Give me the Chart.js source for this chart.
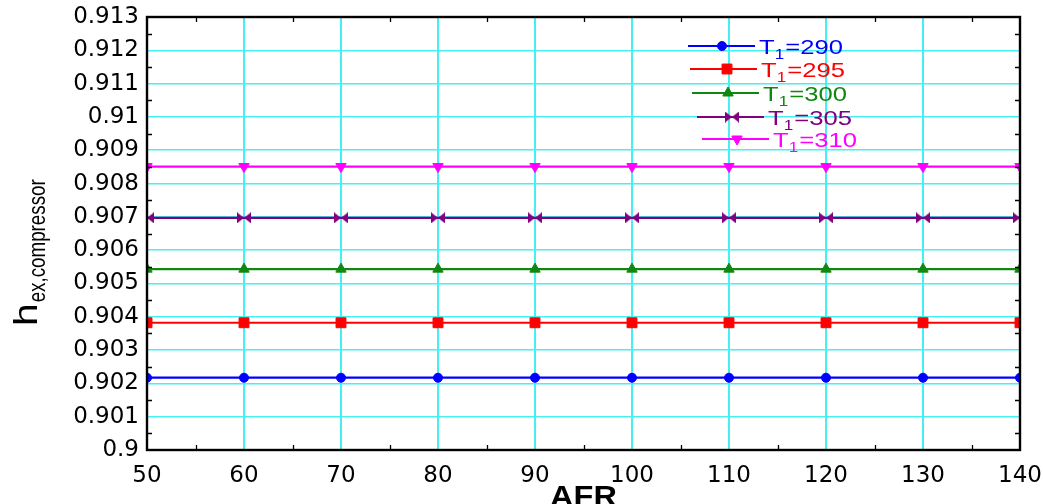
<!DOCTYPE html>
<html><head><meta charset="utf-8">
<script src="https://cdn.jsdelivr.net/npm/chart.js@4.4.0/dist/chart.umd.min.js"></script>
<style>html,body{margin:0;padding:0;background:#fff;overflow:hidden}#wrap{width:1043px;height:504px;position:relative}</style>
</head><body><div id="wrap"><canvas id="c" width="1043" height="504"></canvas></div>
<script>
const afr = [50, 60, 70, 80, 90, 100, 110, 120, 130, 140];
const temps = [290, 295, 300, 305, 310];
const eta290 = [0.90217, 0.90217, 0.90217, 0.90217, 0.90217, 0.90217, 0.90217, 0.90217, 0.90217, 0.90217];
const eta295 = [0.90382, 0.90382, 0.90382, 0.90382, 0.90382, 0.90382, 0.90382, 0.90382, 0.90382, 0.90382];
const eta300 = [0.90543, 0.90543, 0.90543, 0.90543, 0.90543, 0.90543, 0.90543, 0.90543, 0.90543, 0.90543];
const eta305 = [0.90697, 0.90697, 0.90697, 0.90697, 0.90697, 0.90697, 0.90697, 0.90697, 0.90697, 0.90697];
const eta310 = [0.90851, 0.90851, 0.90851, 0.90851, 0.90851, 0.90851, 0.90851, 0.90851, 0.90851, 0.90851];
const xTicks = [50, 60, 70, 80, 90, 100, 110, 120, 130, 140];
const xTickLabels = ['50', '60', '70', '80', '90', '100', '110', '120', '130', '140'];
const xMinorTicks = [55, 65, 75, 85, 95, 105, 115, 125, 135];
const yTicks = [0.9, 0.901, 0.902, 0.903, 0.904, 0.905, 0.906, 0.907, 0.908, 0.909, 0.91, 0.911, 0.912, 0.913];
const yTickLabels = ['0.9', '0.901', '0.902', '0.903', '0.904', '0.905', '0.906', '0.907', '0.908', '0.909', '0.91', '0.911', '0.912', '0.913'];
const yMinorTicks = [0.9005, 0.9015, 0.9025, 0.9035, 0.9045, 0.9055, 0.9065, 0.9075, 0.9085, 0.9095, 0.9105, 0.9115, 0.9125];
const xTitle = 'AFR';
const yTitleMain = 'h';
const yTitleSub = 'ex,compressor';
const legendPrefix = 'T';
const legendSub = '1';

function bowtie(color) {
  const c = document.createElement('canvas');
  c.width = 14; c.height = 11;
  const g = c.getContext('2d');
  g.fillStyle = color;
  g.beginPath();
  g.moveTo(0, 0); g.lineTo(7, 5.5); g.lineTo(0, 11); g.closePath();
  g.moveTo(14, 0); g.lineTo(7, 5.5); g.lineTo(14, 11); g.closePath();
  g.fill();
  return c;
}

const colors = ['#0000ff', '#ff0000', '#108810', '#800080', '#ff00ff'];
const seriesValues = [eta290, eta295, eta300, eta305, eta310];
const styles = [
  {pointStyle: 'circle', radius: 4.5, rotation: 0},
  {pointStyle: 'rect', radius: 7, rotation: 0},
  {pointStyle: 'triangle', radius: 6, rotation: 0},
  {pointStyle: bowtie('#800080'), radius: 6, rotation: 0},
  {pointStyle: 'triangle', radius: 6, rotation: 180}
];

const datasets = temps.map((t, i) => ({
  label: legendPrefix + legendSub + '=' + t,
  data: afr.map((x, j) => ({x: x, y: seriesValues[i][j]})),
  borderColor: colors[i],
  backgroundColor: colors[i],
  borderWidth: 2.2,
  pointStyle: styles[i].pointStyle,
  pointRadius: styles[i].radius,
  pointRotation: styles[i].rotation,
  pointBorderWidth: 1,
  pointBorderColor: colors[i],
  pointBackgroundColor: colors[i],
  tension: 0
}));

const frame = {
  id: 'frame',
  afterDatasetsDraw(chart) {
    const ctx = chart.ctx, a = chart.chartArea;
    const xs = chart.scales.x, ys = chart.scales.y;
    ctx.save();
    ctx.strokeStyle = '#000';
    ctx.lineWidth = 1.3;
    ctx.beginPath();
    xMinorTicks.forEach(v => {
      const px = Math.round(xs.getPixelForValue(v)) + 0.5;
      ctx.moveTo(px, a.bottom); ctx.lineTo(px, a.bottom - 5);
      ctx.moveTo(px, a.top); ctx.lineTo(px, a.top + 5);
    });
    yMinorTicks.forEach(v => {
      const py = Math.round(ys.getPixelForValue(v)) + 0.5;
      ctx.moveTo(a.left, py); ctx.lineTo(a.left + 5, py);
      ctx.moveTo(a.right, py); ctx.lineTo(a.right - 5, py);
    });
    ctx.stroke();
    ctx.lineWidth = 2.4;
    ctx.strokeRect(a.left, a.top, a.right - a.left, a.bottom - a.top);
    ctx.restore();
  },
  afterDraw(chart) {
    const ctx = chart.ctx, a = chart.chartArea;
    ctx.save();
    ctx.fillStyle = '#000';
    ctx.font = 'bold 29px "Liberation Sans", Arial, sans-serif';
    ctx.textBaseline = 'alphabetic';
    ctx.textAlign = 'center';
    const cx = (a.left + a.right) / 2;
    ctx.save();
    ctx.translate(cx, 506);
    ctx.scale(1.12, 1);
    ctx.fillText(xTitle, 0, 0);
    ctx.restore();
    ctx.save();
    ctx.translate(37, 326);
    ctx.rotate(-Math.PI / 2);
    ctx.textAlign = 'left';
    ctx.font = '34px "Liberation Sans", Arial, sans-serif';
    ctx.save();
    ctx.scale(1.2, 1);
    ctx.fillText(yTitleMain, 0, 0);
    const hw = ctx.measureText(yTitleMain).width * 1.2;
    ctx.restore();
    ctx.font = '24px "Liberation Sans", Arial, sans-serif';
    const sw = ctx.measureText(yTitleSub).width;
    ctx.save();
    ctx.translate(hw + 1, 8);
    ctx.scale(123 / sw, 1);
    ctx.fillText(yTitleSub, 0, 0);
    ctx.restore();
    ctx.restore();
    const rowsY = [46, 69, 93, 117, 139];
    const lineX0 = [688, 690, 692, 697, 702];
    const markX = [722, 727, 728, 732, 737];
    temps.forEach((t, i) => {
      const y = rowsY[i];
      ctx.strokeStyle = colors[i];
      ctx.fillStyle = colors[i];
      ctx.lineWidth = 2.2;
      ctx.beginPath();
      ctx.moveTo(lineX0[i], y); ctx.lineTo(lineX0[i] + 67, y);
      ctx.stroke();
      ctx.lineWidth = 1;
      Chart.helpers.drawPoint(ctx, {pointStyle: styles[i].pointStyle, rotation: styles[i].rotation, radius: styles[i].radius, borderWidth: 1}, markX[i], y);
      ctx.save();
      ctx.translate(lineX0[i] + 71, y + 8);
      ctx.scale(1.22, 1);
      ctx.textAlign = 'left';
      ctx.font = '21px "Liberation Sans", Arial, sans-serif';
      ctx.fillText(legendPrefix, 0, 0);
      let w = ctx.measureText(legendPrefix).width;
      ctx.font = '14px "Liberation Sans", Arial, sans-serif';
      ctx.fillText(legendSub, w, 5);
      w += ctx.measureText(legendSub).width + 1;
      ctx.font = '21px "Liberation Sans", Arial, sans-serif';
      ctx.fillText('=' + t, w, 0);
      ctx.restore();
    });
    ctx.restore();
  }
};

new Chart(document.getElementById('c'), {
  type: 'line',
  data: {datasets: datasets},
  options: {
    responsive: false,
    animation: false,
    devicePixelRatio: 1,
    layout: {padding: {left: 0, top: 17, right: 23, bottom: 0}},
    plugins: {legend: {display: false}, tooltip: {enabled: false}, title: {display: false}},
    scales: {
      x: {
        type: 'linear', min: 50, max: 140,
        afterBuildTicks: s => { s.ticks = xTicks.map(v => ({value: v})); },
        afterFit: s => { s.height = 54; s.paddingLeft = 0; s.paddingRight = 0; },
        ticks: {
          callback: (v, i) => xTickLabels[i],
          font: {family: '"DejaVu Sans", sans-serif', size: 23},
          color: '#000', padding: 12, maxRotation: 0, autoSkip: false
        },
        grid: {color: '#44f0f0', lineWidth: 2, drawTicks: false},
        border: {display: false}
      },
      y: {
        type: 'linear', min: 0.9, max: 0.913,
        afterBuildTicks: s => { s.ticks = yTicks.map(v => ({value: v})); },
        afterFit: s => { s.width = 147; s.paddingTop = 0; s.paddingBottom = 0; },
        ticks: {
          callback: (v, i) => yTickLabels[i],
          font: {family: '"DejaVu Sans", sans-serif', size: 23},
          color: '#000', padding: 8, autoSkip: false
        },
        grid: {color: '#44f0f0', lineWidth: 1.5, drawTicks: false},
        border: {display: false}
      }
    }
  },
  plugins: [frame]
});
</script>
</body></html>
